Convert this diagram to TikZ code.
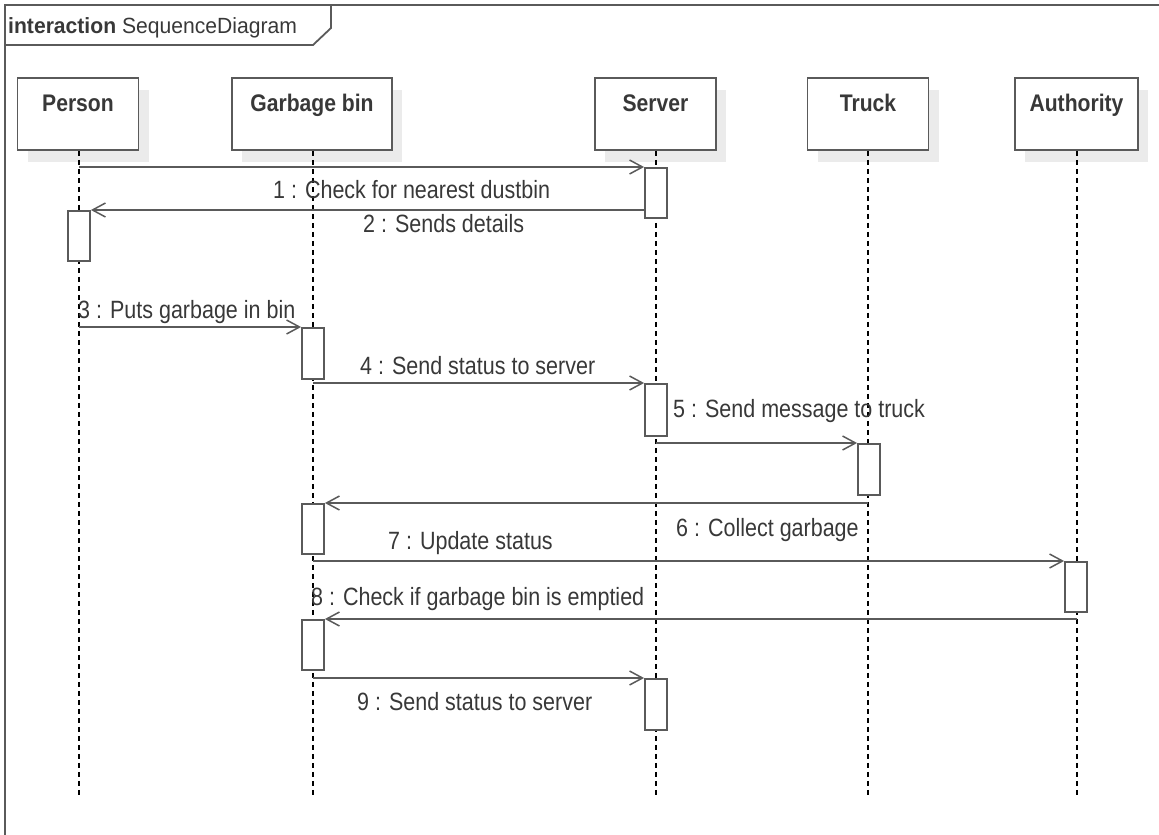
\documentclass[tikz,border=0pt]{standalone}
\usepackage{fontspec}
\setmainfont{Liberation Sans}
\newfontfamily\lblfont[FakeStretch=0.86]{Liberation Sans}
\newfontfamily\namefont[FakeStretch=0.88]{Liberation Sans}
\newfontfamily\titlefont[FakeStretch=0.96]{Liberation Sans}
\usetikzlibrary{arrows.meta,shadows}
\definecolor{ln}{HTML}{5A5A5A}
\definecolor{tx}{HTML}{383838}
\definecolor{sh}{HTML}{EBEBEB}
\begin{document}
\begin{tikzpicture}[x=1pt,y=-1pt,
 actorbox/.style={draw=ln, line width=1.8pt, fill=white, minimum width=121pt, minimum height=72pt, inner sep=0pt,
   general shadow={fill=sh, shadow xshift=10pt, shadow yshift=-12pt}},
 actorname/.style={font=\namefont\fontsize{24}{26}\selectfont\bfseries, text=tx, inner sep=0pt, anchor=base},
 life/.style={draw=black, line width=1.3pt, dash pattern=on 5pt off 4pt},
 act/.style={draw=ln, line width=1.8pt, fill=white, minimum width=22pt, minimum height=50pt, inner sep=0pt, anchor=north},
 msg/.style={draw=ln, line width=1.8pt, -{Straight Barb[length=13pt,width=14pt,line width=1.5pt]}},
 lbl/.style={font=\lblfont\fontsize{25}{28}\selectfont, text=tx, inner sep=0pt, anchor=base west},
 frameline/.style={draw=ln, line width=1.8pt},
]
\useasboundingbox (0,0) rectangle (1159,835);
% frame
\draw[frameline] (5,835) -- (5,5) -- (1159,5);
\draw[frameline] (5,45) -- (313,45) -- (331,28) -- (331,5);
\node[anchor=base west, inner sep=0pt, text=tx, font=\titlefont\fontsize{22}{24}\selectfont] (title) at (8,33) {\textbf{interaction} SequenceDiagram};

% actors
\node[actorbox] (person) at (78,114) {};
\node[actorbox, minimum width=160pt] (bin) at (312,114) {};
\node[actorbox] (server) at (655.5,114) {};
\node[actorbox] (truck) at (868,114) {};
\node[actorbox, minimum width=123pt] (auth) at (1076.5,114) {};
\node[actorname] (personL) at (78,111) {Person};
\node[actorname] (binL) at (312,111) {Garbage bin};
\node[actorname] (serverL) at (655.5,111) {Server};
\node[actorname] (truckL) at (868,111) {Truck};
\node[actorname] (authL) at (1076.5,111) {Authority};

% lifeline ends
\coordinate (personE) at (79,795);
\coordinate (binE) at (313,795);
\coordinate (serverE) at (656,795);
\coordinate (truckE) at (868,795);
\coordinate (authE) at (1077,795);
\draw[life] (person.south -| personE) -- (personE);
\draw[life] (bin.south -| binE) -- (binE);
\draw[life] (server.south -| serverE) -- (serverE);
\draw[life] (truck.south -| truckE) -- (truckE);
\draw[life] (auth.south -| authE) -- (authE);

% activations
\node[act] (s1) at (656,167) {};
\node[act] (p1) at (79,210) {};
\node[act, minimum height=51pt] (g1) at (313,327) {};
\node[act, minimum height=52pt] (s2) at (656,383) {};
\node[act, minimum height=51pt] (t1) at (869,443) {};
\node[act] (g2) at (313,503) {};
\node[act] (a1) at (1076,561) {};
\node[act] (g3) at (313,619) {};
\node[act, minimum height=51pt] (s3) at (656,678) {};

% message start points
\coordinate (m1) at (79,167);
\coordinate (m3) at (79,327);
\coordinate (m4) at (313,383);
\coordinate (m5) at (656,443);
\coordinate (m6) at (868,503);
\coordinate (m7) at (313,561);
\coordinate (m8) at (1077,619);
\coordinate (m9) at (313,678);

% messages
\draw[msg] (m1) -- (s1.north west);
\draw[msg] (p1.north east -| s1.west) -- (p1.north east);
\draw[msg] (m3) -- (g1.north west);
\draw[msg] (m4) -- (s2.north west);
\draw[msg] (m5) -- (t1.north west);
\draw[msg] (m6) -- (g2.north east);
\draw[msg] (m7) -- (a1.north west);
\draw[msg] (m8) -- (g3.north east);
\draw[msg] (m9) -- (s3.north west);

% labels
\node[lbl] (l1) at (273,198) {1 : Check for nearest dustbin};
\node[lbl] (l2) at (363,232) {2 : Sends details};
\node[lbl] (l3) at (78,318) {3 : Puts garbage in bin};
\node[lbl] (l4) at (360,374) {4 : Send status to server};
\node[lbl] (l5) at (673,417) {5 : Send message to truck};
\node[lbl] (l6) at (676,536) {6 : Collect garbage};
\node[lbl] (l7) at (388,549) {7 : Update status};
\node[lbl] (l8) at (311,605) {8 : Check if garbage bin is emptied};
\node[lbl] (l9) at (357,710) {9 : Send status to server};
\end{tikzpicture}
\end{document}
